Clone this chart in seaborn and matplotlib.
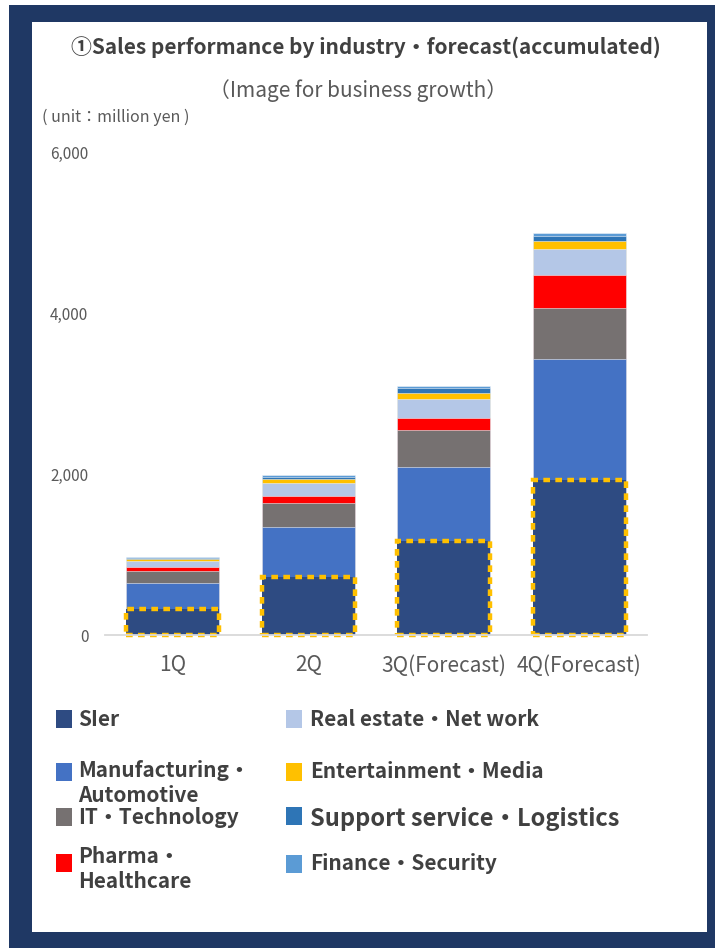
import numpy as np
import pandas as pd
import seaborn as sns
import matplotlib.pyplot as plt
from matplotlib.patches import Rectangle
from matplotlib.ticker import FuncFormatter

# ---- data (million yen, accumulated) ----
quarters = ["1Q", "2Q", "3Q(Forecast)", "4Q(Forecast)"]
industries = [
    "SIer",
    "Manufacturing・\nAutomotive",
    "IT・Technology",
    "Pharma・\nHealthcare",
    "Real estate・Net work",
    "Entertainment・Media",
    "Support service・Logistics",
    "Finance・Security",
]
sier = [323, 724, 1171, 1925]
manufacturing = [319, 614, 912, 1499]
it_tech = [153, 298, 460, 633]
pharma = [46, 94, 157, 410]
real_estate = [82, 161, 232, 330]
entertainment = [17, 42, 78, 96]
support = [12, 32, 55, 62]
finance = [12, 21, 29, 41]
colors = ["#2E4B82", "#4472C4", "#767171", "#FF0000",
          "#B4C7E7", "#FFC000", "#2E75B6", "#5B9BD5"]

series = [sier, manufacturing, it_tech, pharma,
          real_estate, entertainment, support, finance]

df = pd.DataFrame({name: vals for name, vals in zip(industries, series)},
                  index=quarters)
cum = df.cumsum(axis=1)

# ---- figure ----
sns.set_style("white")
plt.rcParams["font.family"] = ["Noto Sans CJK JP", "DejaVu Sans"]

W, H = 715, 948
fig = plt.figure(figsize=(W / 100, H / 100), dpi=100)
fig.patch.set_facecolor("white")


def fx(x):
    return x / W


def fy(y):
    return 1 - y / H


# navy frame with white panel
fig.patches.append(Rectangle((fx(9), 0), 1 - fx(9), fy(5), transform=fig.transFigure,
                             facecolor="#1F3864", edgecolor="none", zorder=-10))
fig.patches.append(Rectangle((fx(32), fy(932)), fx(707) - fx(32), fy(22) - fy(932),
                             transform=fig.transFigure, facecolor="white",
                             edgecolor="none", zorder=-9))

ax = fig.add_axes([fx(105), fy(635), fx(647) - fx(105), fy(152) - fy(635)])
ax.set_facecolor("none")

# stacked bars: draw cumulative totals from the top segment down
bar_w = 0.69
for i in range(len(industries) - 1, 0, -1):
    sns.barplot(x=quarters, y=cum.iloc[:, i].values, order=quarters,
                color=colors[i], saturation=1, width=bar_w, errorbar=None,
                edgecolor="#EEF2F8", linewidth=0.4, ax=ax)
# SIer base with dashed highlight border
sns.barplot(x=quarters, y=cum.iloc[:, 0].values, order=quarters,
            color=colors[0], saturation=1, width=bar_w, errorbar=None,
            edgecolor="#FFC000", linewidth=3.2, linestyle=(0, (1.5, 1.2)),
            clip_on=False, ax=ax)

ax.set_xlim(-0.5, 3.5)
ax.set_ylim(0, 6000)
ax.set_yticks([0, 2000, 4000, 6000])
ax.yaxis.set_major_formatter(FuncFormatter(lambda v, p: f"{int(v):,}"))
ax.set_xlabel("")
ax.set_ylabel("")
for s in ["top", "right", "left"]:
    ax.spines[s].set_visible(False)
ax.spines["bottom"].set_color("#D9D9D9")
ax.spines["bottom"].set_linewidth(1.3)
ax.tick_params(axis="y", length=0, pad=12, labelsize=11, labelcolor="#595959")
ax.tick_params(axis="x", length=0, pad=14, labelsize=15, labelcolor="#595959")

# titles
fig.text(fx(366), fy(48), "①Sales performance by industry・forecast(accumulated)",
         ha="center", va="center", fontsize=15, fontweight="bold", color="#404040")
fig.text(fx(358), fy(91), "（Image for business growth）",
         ha="center", va="center", fontsize=15, color="#595959")
fig.text(fx(42), fy(117), "( unit：million yen )",
         ha="left", va="center", fontsize=11.5, color="#595959")

# legend
legend_pos = [
    # (square x, square top, text x, text center y, fontsize)
    (56, 710, 78, 719, 15),
    (56, 763, 78, 783, 15),
    (56, 808, 78, 817, 15),
    (56, 854, 78, 869, 15),
    (286, 710, 310, 720, 15),
    (286, 763, 310, 772, 15),
    (286, 807, 310, 819, 17),
    (286, 855, 310, 864, 15),
]
for name, col, (sx, sy, tx, ty, fs) in zip(industries, colors, legend_pos):
    fig.patches.append(Rectangle((fx(sx), fy(sy + 18)), fx(16), 18 / H,
                                 transform=fig.transFigure, facecolor=col,
                                 edgecolor="none", zorder=2))
    fig.text(fx(tx), fy(ty), name, ha="left", va="center", fontsize=fs,
             fontweight="bold", color="#404040", linespacing=1.25)

fig.savefig("out.png", dpi=100)
